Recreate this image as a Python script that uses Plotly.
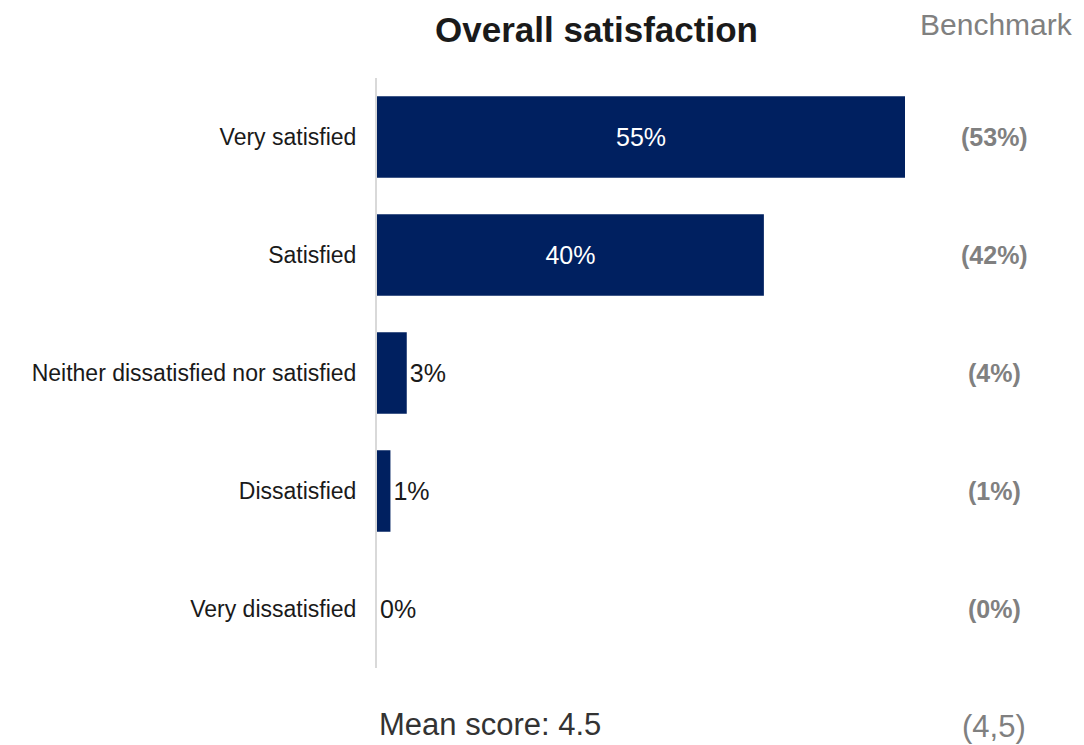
import plotly.graph_objects as go

categories = ["Very satisfied", "Satisfied", "Neither dissatisfied nor satisfied", "Dissatisfied", "Very dissatisfied"]
values = [55.0, 40.3, 3.1, 1.4, 0.0]
value_labels = ["55%", "40%", "3%", "1%", "0%"]
benchmark_labels = ["(53%)", "(42%)", "(4%)", "(1%)", "(0%)"]
mean_score = "4.5"
benchmark_mean = "(4,5)"

FONT = "Liberation Sans, Arial, sans-serif"
NAVY = "#002060"
GRAY = "#808080"

# page has an 8px body margin; figure is sized to fill the rest of the window
OFF = 8
FIG_W, FIG_H = 1084 - OFF, 745 - OFF
L, R, T, B = 377 - OFF, 35, 78 - OFF, 77
W = FIG_W - L - R
H = FIG_H - T - B


def px(xp):
    return (xp - OFF - L) / W


def py(yp):
    return (FIG_H - B - (yp - OFF)) / H


positions = ["inside" if v > 10 else "outside" for v in values]

fig = go.Figure()
fig.add_trace(go.Bar(
    x=values, y=categories, orientation="h",
    marker=dict(color=NAVY, line=dict(width=0)),
    width=0.69,
    text=value_labels, textposition=positions,
    insidetextanchor="middle",
    insidetextfont=dict(color="white", size=25, family=FONT),
    outsidetextfont=dict(color="#1a1a1a", size=25, family=FONT),
    cliponaxis=False,
    hoverinfo="skip",
))

annotations = []
for cat, b in zip(categories, benchmark_labels):
    annotations.append(dict(
        x=px(994), xref="paper", y=cat, yref="y", text="<b>" + b + "</b>",
        showarrow=False, xanchor="center", yanchor="middle",
        font=dict(color=GRAY, size=25, family=FONT)))

annotations += [
    dict(x=px(596), xref="paper", y=py(29), yref="paper", text="<b>Overall satisfaction</b>",
         showarrow=False, xanchor="center", yanchor="middle",
         font=dict(size=35, color="#1a1a1a", family=FONT)),
    dict(x=px(1075), xref="paper", y=py(24), yref="paper", text="Benchmark",
         showarrow=False, xanchor="right", yanchor="middle",
         font=dict(size=30, color=GRAY, family=FONT)),
    dict(x=px(377), xref="paper", y=py(724), yref="paper", text="Mean score: " + mean_score,
         showarrow=False, xanchor="left", yanchor="middle",
         font=dict(size=31, color="#333333", family=FONT)),
    dict(x=px(994), xref="paper", y=py(726), yref="paper", text=benchmark_mean,
         showarrow=False, xanchor="center", yanchor="middle",
         font=dict(size=31, color=GRAY, family=FONT)),
]

fig.update_layout(
    width=FIG_W, height=FIG_H,
    margin=dict(l=L, r=R, t=T, b=B, pad=0),
    paper_bgcolor="white", plot_bgcolor="white",
    showlegend=False,
    font=dict(family=FONT),
    xaxis=dict(range=[0, 70], showgrid=False, zeroline=False, showticklabels=False,
               showline=False, fixedrange=True),
    yaxis=dict(categoryorder="array", categoryarray=categories[::-1],
               range=[-0.5, 4.5],
               showgrid=False, zeroline=False, showline=True, linecolor="#d9d9d9", linewidth=2,
               ticks="", ticklabelstandoff=14,
               tickfont=dict(size=23, color="#1a1a1a", family=FONT)),
    annotations=annotations,
)

fig.write_html("out.html")
